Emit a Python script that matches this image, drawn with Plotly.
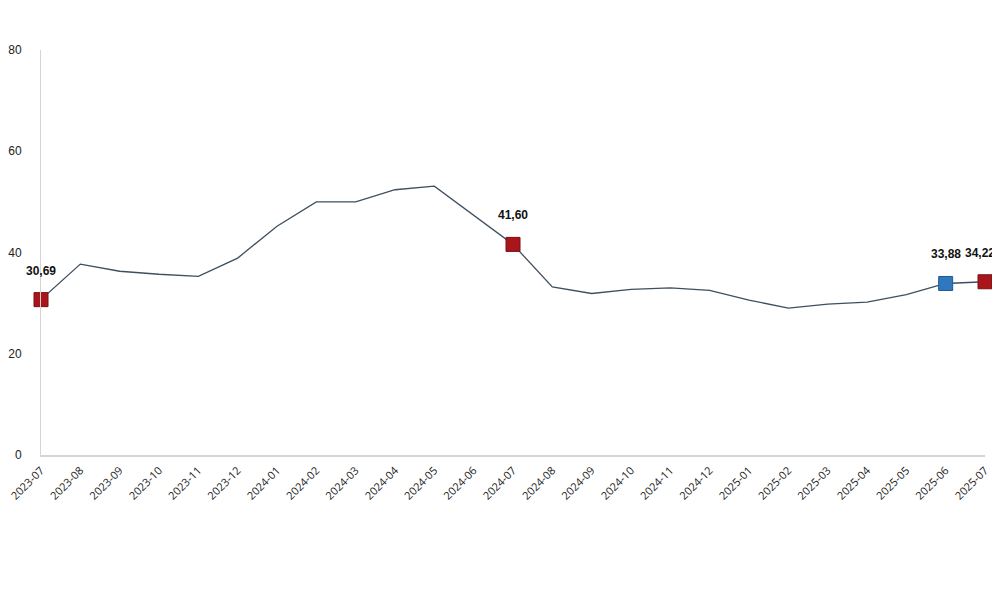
import plotly.graph_objects as go

months = ["2023-07", "2023-08", "2023-09", "2023-10", "2023-11", "2023-12",
          "2024-01", "2024-02", "2024-03", "2024-04", "2024-05", "2024-06",
          "2024-07", "2024-08", "2024-09", "2024-10", "2024-11", "2024-12",
          "2025-01", "2025-02", "2025-03", "2025-04", "2025-05", "2025-06",
          "2025-07"]
values = [30.69, 37.7, 36.3, 35.7, 35.3, 38.9,
          45.2, 50.0, 50.0, 52.4, 53.1, 47.4,
          41.60, 33.2, 31.9, 32.7, 33.0, 32.5,
          30.6, 29.0, 29.8, 30.2, 31.7, 33.88,
          34.22]

red_months = ["2023-07", "2024-07", "2025-07"]
blue_months = ["2025-06"]
y_ticks = [0, 20, 40, 60, 80]

RED = "#A8161C"
BLUE = "#2F78BE"
LINE = "#3E4F5F"

lookup = dict(zip(months, values))

fig = go.Figure()
fig.add_trace(go.Scatter(x=months, y=values, mode="lines", cliponaxis=False,
                         line=dict(color=LINE, width=1.3), hoverinfo="skip"))
fig.add_trace(go.Scatter(x=red_months, y=[lookup[m] for m in red_months], mode="markers",
                         cliponaxis=False,
                         marker=dict(symbol="square", size=14, color=RED,
                                     line=dict(color="#7a0f12", width=1))))
fig.add_trace(go.Scatter(x=blue_months, y=[lookup[m] for m in blue_months], mode="markers",
                         cliponaxis=False,
                         marker=dict(symbol="square", size=14, color=BLUE,
                                     line=dict(color="#215a90", width=1))))

for m in red_months + blue_months:
    last = (m == months[-1])
    fig.add_annotation(x=m, y=lookup[m], text="<b>" + f"{lookup[m]:.2f}".replace(".", ",") + "</b>",
                       showarrow=False, yshift=29,
                       xanchor=("right" if last else "center"), xshift=(12 if last else 0),
                       font=dict(family="Liberation Sans, Arial", size=12, color="#111111"))

# the page body adds an 8px margin, so the figure is sized to fit the 1000x593 window
fig.update_layout(
    width=992, height=577,
    margin=dict(l=33, r=15, t=42, b=130),
    paper_bgcolor="white", plot_bgcolor="white",
    showlegend=False,
    font=dict(family="Liberation Sans, Arial", color="#222222"),
)
fig.update_xaxes(type="category", categoryorder="array", categoryarray=months,
                 range=[0, len(months) - 1], tickangle=-45, automargin=False,
                 showgrid=False, zeroline=False,
                 showline=True, linecolor="#d4d4d4", linewidth=1.5,
                 tickfont=dict(family="Open Sans, Liberation Sans", size=11, color="#222222"),
                 ticks="", ticklabelstandoff=3)
fig.update_yaxes(range=[0, 80], tickvals=y_ticks, showgrid=False, zeroline=False,
                 showline=True, linecolor="#d4d4d4", linewidth=1, automargin=False,
                 tickfont=dict(family="Liberation Sans, Arial", size=12, color="#222222"),
                 ticks="", ticklabelstandoff=16)

fig.write_html("out.html")
